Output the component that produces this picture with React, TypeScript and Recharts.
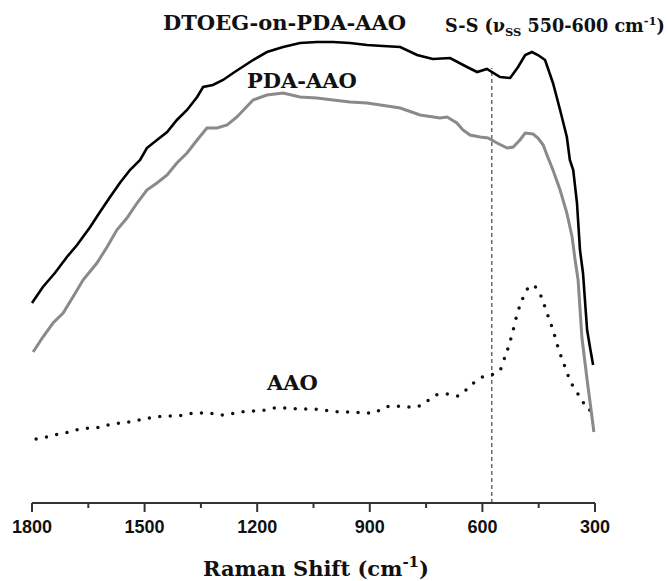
import React from 'react';
import { LineChart, Line, XAxis, YAxis, ReferenceLine, Customized } from 'recharts';

// Raman shift (cm-1) and intensity (a.u.)
const dtoegShift = [1800, 1771, 1739, 1707, 1680, 1645, 1619, 1592, 1566, 1539, 1512, 1494, 1467, 1440, 1414, 1387, 1360, 1344, 1318, 1291, 1264, 1211, 1174, 1131, 1086, 1041, 998, 953, 907, 865, 819, 774, 732, 686, 641, 614, 588, 553, 526, 505, 486, 468, 452, 433, 412, 393, 375, 367, 358, 348, 340, 332, 321, 313, 305];
const dtoegValue = [200, 216, 230, 246, 258, 276, 291, 306, 320, 333, 343, 355, 363, 371, 383, 393, 406, 416, 418, 423, 430, 443, 451, 456, 460, 461, 461, 460, 458, 457, 456, 448, 444, 445, 436, 431, 434, 426, 425, 436, 448, 451, 448, 443, 420, 393, 366, 343, 333, 300, 253, 230, 173, 155, 138];

const pdaShift = [1797, 1771, 1744, 1717, 1691, 1664, 1627, 1600, 1574, 1547, 1520, 1494, 1467, 1440, 1414, 1387, 1360, 1334, 1307, 1280, 1254, 1211, 1174, 1131, 1086, 1041, 998, 953, 907, 819, 766, 713, 694, 668, 652, 633, 606, 585, 561, 534, 518, 500, 486, 465, 452, 438, 428, 412, 393, 375, 361, 353, 345, 335, 321, 308, 303];
const pdaValue = [151, 166, 180, 190, 206, 223, 240, 256, 273, 285, 300, 313, 320, 328, 340, 350, 363, 375, 375, 378, 386, 403, 408, 410, 406, 405, 403, 401, 400, 395, 388, 385, 386, 380, 373, 368, 366, 365, 360, 355, 356, 363, 370, 369, 365, 358, 348, 333, 313, 290, 266, 243, 223, 166, 123, 86, 71];

const aaoShift = [1789, 1760, 1728, 1699, 1672, 1643, 1613, 1589, 1558, 1526, 1502, 1470, 1446, 1419, 1392, 1366, 1331, 1302, 1272, 1243, 1211, 1179, 1153, 1118, 1089, 1059, 1027, 1003, 974, 947, 918, 889, 865, 835, 806, 779, 750, 724, 694, 665, 636, 606, 577, 553, 540, 529, 518, 508, 492, 468, 444, 428, 412, 398, 382, 369, 353, 337, 319, 300];
const aaoValue = [64, 66, 69, 71, 74, 75, 76, 79, 80, 82, 84, 86, 87, 87, 88, 90, 90, 88, 89, 91, 92, 93, 95, 95, 94, 94, 93, 92, 91, 91, 90, 90, 95, 97, 96, 96, 101, 108, 109, 107, 116, 125, 128, 133, 146, 158, 173, 188, 205, 218, 207, 190, 173, 155, 138, 125, 113, 105, 93, 93];

const xTicks = [1800, 1650, 1500, 1350, 1200, 1050, 900, 750, 600, 450, 300];
const ssMarker = 575;

const toPoints = (shift: number[], value: number[]) => shift.map((s, i) => ({ shift: s, value: value[i] }));
const dtoegData = toPoints(dtoegShift, dtoegValue);
const pdaData = toPoints(pdaShift, pdaValue);
const aaoData = toPoints(aaoShift, aaoValue);

const serif = '"DejaVu Serif", serif';

function AxisTick(props: any) {
  const { x, y, payload } = props;
  const major = payload.value % 300 === 0;
  return (
    <g>
      <line x1={x} x2={x} y1={y} y2={y + (major ? 9 : 5)} stroke="#333" strokeWidth={2} />
      {major && (
        <text x={x} y={y + 30} textAnchor="middle" fontFamily='"Liberation Sans", Arial, sans-serif' fontWeight={700} fontSize={18} fill="#111">
          {payload.value}
        </text>
      )}
    </g>
  );
}

function Annotations() {
  return (
    <g fontFamily={serif} fontWeight={700} fill="#111">
      <text x={163} y={30} fontSize={21}>DTOEG-on-PDA-AAO</text>
      <text x={247} y={88} fontSize={21}>PDA-AAO</text>
      <text x={267} y={390} fontSize={21}>AAO</text>
      <text x={445} y={32} fontSize={17.6}>
        S-S (ν<tspan fontSize={11.5} dy={4}>SS</tspan><tspan dy={-4}> 550-600 cm</tspan>
        <tspan fontSize={11.5} dy={-7}>-1</tspan><tspan dy={7}>)</tspan>
      </text>
      <text x={316} y={576} fontSize={21} textAnchor="middle">
        Raman Shift (cm<tspan fontSize={15} dy={-9}>-1</tspan><tspan dy={9}>)</tspan>
      </text>
    </g>
  );
}

export default function App() {
  return (
    <div style={{ position: 'absolute', left: 0, top: 0, background: '#fff' }}>
      <LineChart width={668} height={581} margin={{ top: 40, right: 73, bottom: 48, left: 32 }}>
        <XAxis
          dataKey="shift"
          type="number"
          domain={[300, 1800]}
          reversed
          ticks={xTicks}
          interval={0}
          tickSize={0}
          tickMargin={0}
          height={30}
          tick={<AxisTick />}
          axisLine={{ stroke: '#333', strokeWidth: 2 }}
          allowDuplicatedCategory={false}
        />
        <YAxis hide type="number" domain={[0, 463]} />
        <ReferenceLine
          segment={[{ x: ssMarker, y: 0 }, { x: ssMarker, y: 435 }]}
          stroke="#555"
          strokeWidth={1.3}
          strokeDasharray="4 3"
        />
        <Line data={aaoData} dataKey="value" type="monotone" stroke="#111" strokeWidth={3.5} strokeDasharray="0 10.5" strokeLinecap="round" dot={false} isAnimationActive={false} />
        <Line data={pdaData} dataKey="value" type="linear" stroke="#8a8a8a" strokeWidth={3} dot={false} isAnimationActive={false} />
        <Line data={dtoegData} dataKey="value" type="linear" stroke="#000" strokeWidth={2.6} dot={false} isAnimationActive={false} />
        <Customized component={<Annotations />} />
      </LineChart>
    </div>
  );
}
